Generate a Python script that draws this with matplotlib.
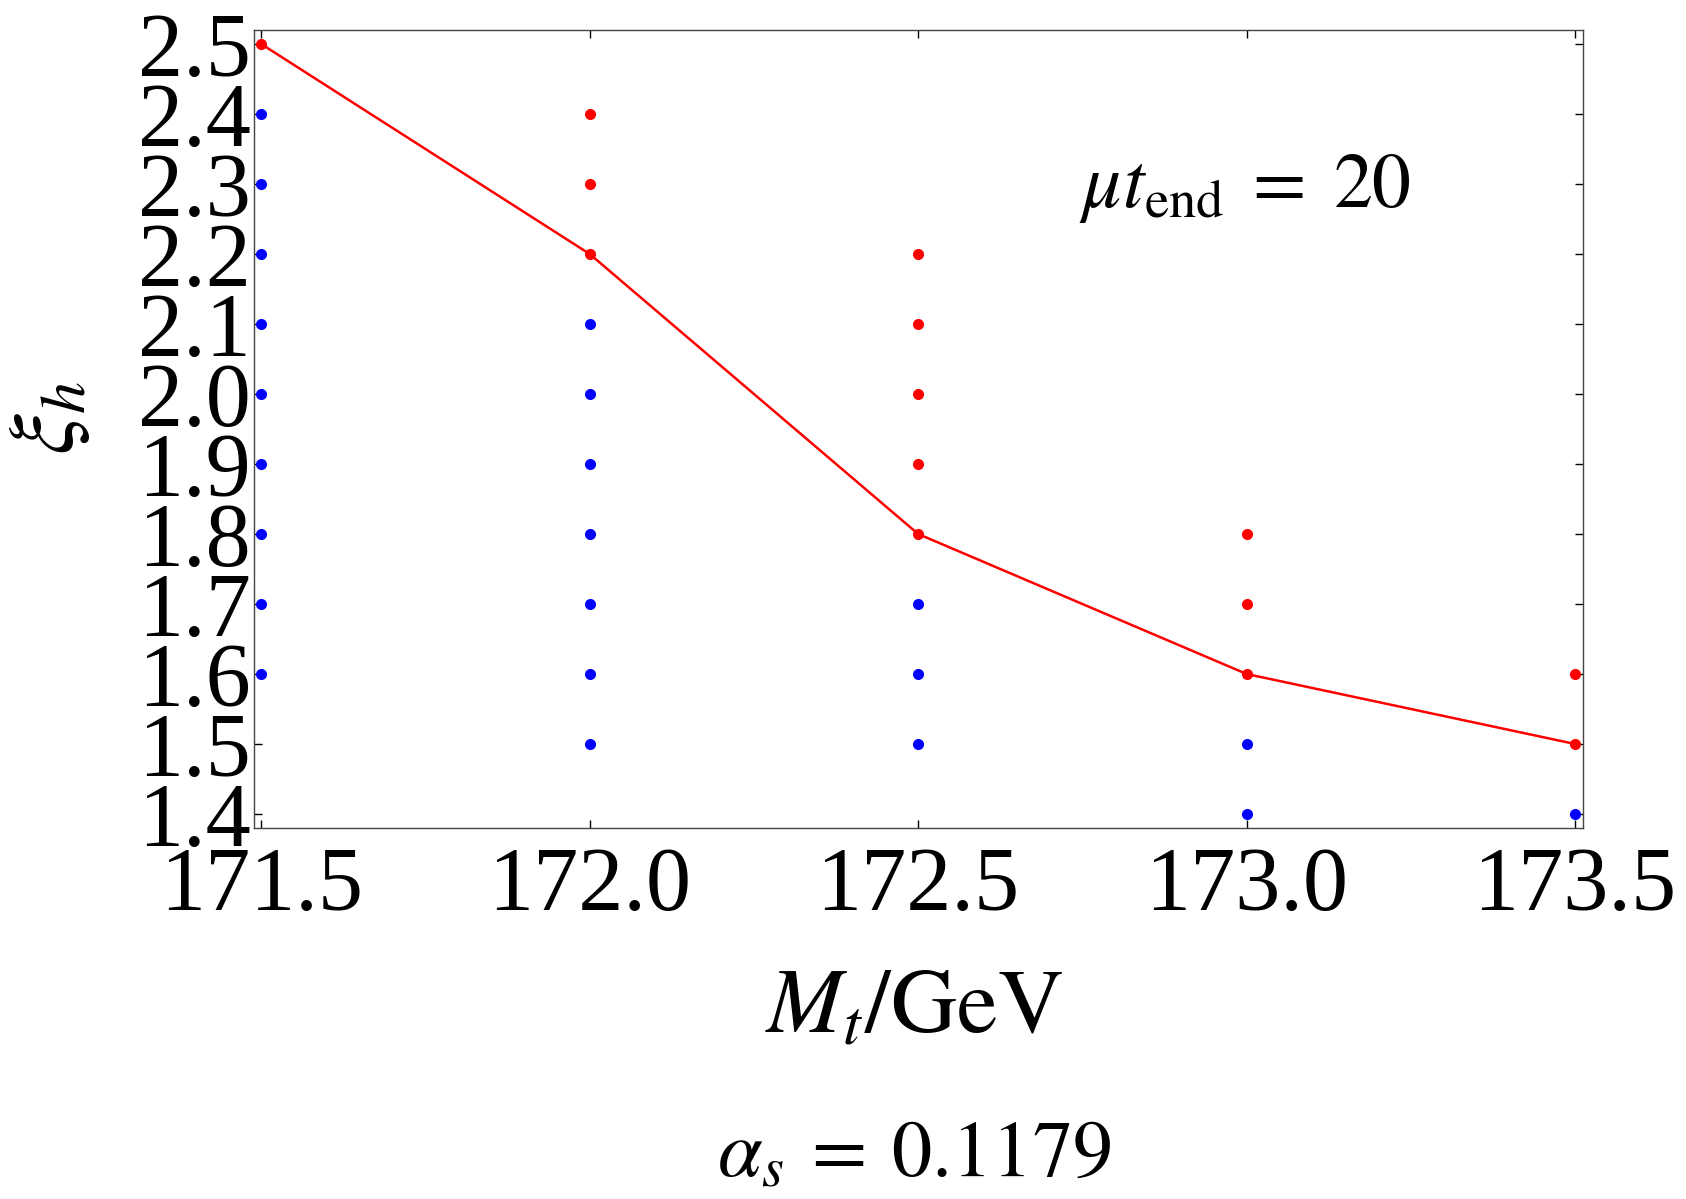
import numpy as np
import matplotlib.pyplot as plt

plt.rcParams['font.family'] = ['Liberation Serif', 'DejaVu Serif']
plt.rcParams['mathtext.fontset'] = 'stix'

# points that are allowed (red) / not allowed (blue)
red_x = [171.5, 172.0, 172.0, 172.0, 172.5, 172.5, 172.5, 172.5, 172.5,
         173.0, 173.0, 173.0, 173.5, 173.5]
red_y = [2.5, 2.4, 2.3, 2.2, 2.2, 2.1, 2.0, 1.9, 1.8,
         1.8, 1.7, 1.6, 1.6, 1.5]
blue_x = [171.5]*9 + [172.0]*7 + [172.5]*3 + [173.0]*2 + [173.5]
blue_y = [2.4, 2.3, 2.2, 2.1, 2.0, 1.9, 1.8, 1.7, 1.6,
          2.1, 2.0, 1.9, 1.8, 1.7, 1.6, 1.5,
          1.7, 1.6, 1.5,
          1.5, 1.4,
          1.4]
# boundary line
line_x = [171.5, 172.0, 172.5, 173.0, 173.5]
line_y = [2.5, 2.2, 1.8, 1.6, 1.5]

xticks = [171.5, 172.0, 172.5, 173.0, 173.5]
yticks = [1.4, 1.5, 1.6, 1.7, 1.8, 1.9, 2.0, 2.1, 2.2, 2.3, 2.4, 2.5]

fig = plt.figure(figsize=(16.86, 11.99), dpi=100)
ax = fig.add_axes([254/1686, 1 - 828/1199, (1583-254)/1686, (828-30)/1199])

ax.plot(line_x, line_y, color='#ff0000', lw=1.8, zorder=2)
ax.plot(red_x, red_y, 'o', color='#ff0000', ms=8, mec='none', zorder=3)
ax.plot(blue_x, blue_y, 'o', color='#0000ff', ms=8, mec='none', zorder=3)

ax.set_xlim(171.489, 173.512)
ax.set_ylim(1.38, 2.52)
ax.set_xticks(xticks)
ax.set_xticklabels(['%.1f' % v for v in xticks])
ax.set_yticks(yticks)
ax.set_yticklabels(['%.1f' % v for v in yticks])
ax.tick_params(direction='in', length=6, width=1, top=True, right=True,
               labelsize=65)
ax.tick_params(axis='x', pad=13)
ax.tick_params(axis='y', pad=2)
for s in ax.spines.values():
    s.set_color('#444444')
    s.set_linewidth(1)

ax.text(0.746, 0.802, r'$\mu t_{\mathrm{end}}\;=\;20$', transform=ax.transAxes,
        fontsize=56, ha='center', va='center')

fig.text(914/1686, 1 - 1010/1199, r'$M_t/\mathrm{GeV}$', fontsize=66,
         ha='center', va='center')
fig.text(50/1686, 1 - 418/1199, r'$\xi_h$', fontsize=66, rotation=90,
         ha='center', va='center')
fig.text(914/1686, 1 - 1157/1199, r'$\alpha_s\:=\:0.1179$', fontsize=58,
         ha='center', va='center')

fig.savefig('out.png', dpi=100)
